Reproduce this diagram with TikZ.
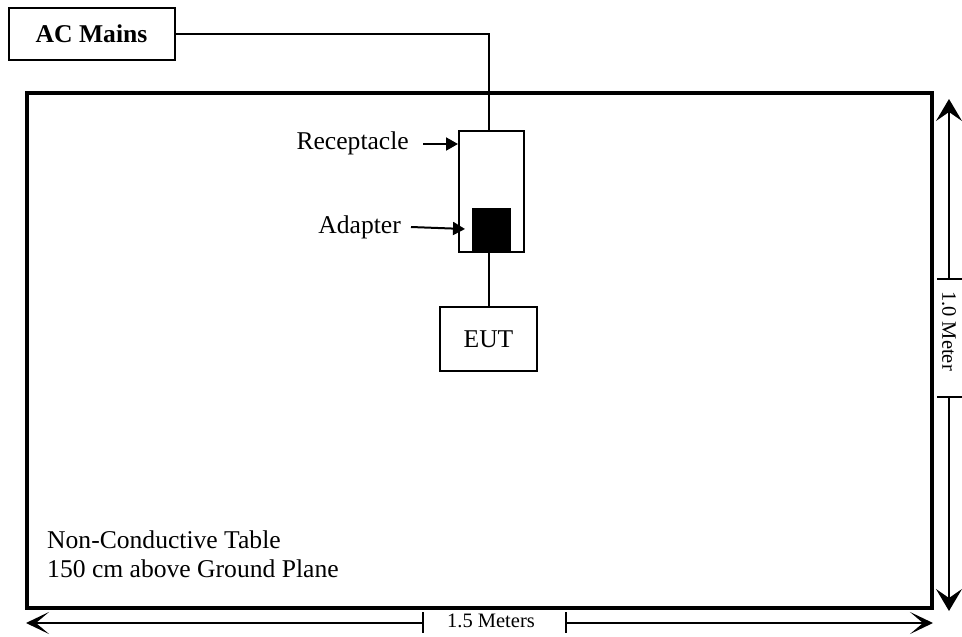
\documentclass[tikz,border=0pt]{standalone}
\usepackage{fontspec}
\setmainfont{Liberation Serif}
\usetikzlibrary{arrows.meta,calc}
\begin{document}
\begin{tikzpicture}[x=1pt,y=-1pt,
  thinline/.style={line width=2pt},
  dimline/.style={line width=1.5pt},
  boxnode/.style={draw,line width=2pt,rectangle,inner sep=0pt},
  lbl/.style={inner sep=0pt,font=\fontsize{25.6}{29}\selectfont},
  dimlbl/.style={inner sep=0pt,font=\fontsize{20.5}{24}\selectfont},
  vtip/.style={-{Stealth[length=22pt,width=26pt,inset=9pt]}},
  htip/.style={-{Stealth[length=23pt,width=22pt,inset=13pt]}},
  ptrtip/.style={-{Triangle[length=12pt,width=13pt]}}
]
\useasboundingbox (0,0) rectangle (962,637);
% table
\node[draw,line width=3.8pt,rectangle,inner sep=0pt,minimum width=905pt,minimum height=515pt] (table) at (479.5,350.5) {};
% AC mains
\node[boxnode,minimum width=166pt,minimum height=52pt,lbl,font=\fontsize{25.6}{29}\selectfont\bfseries] (ac) at (91.5,33.5) {AC Mains};
% receptacle
\node[boxnode,minimum width=65pt,minimum height=121pt] (rec) at (491.5,191.5) {};
\node[fill=black,draw=black,inner sep=0pt,minimum width=38pt,minimum height=44pt,anchor=south] (adp) at (491,252) {};
% EUT
\node[boxnode,minimum width=97pt,minimum height=64pt,lbl] (eut) at (488.5,339) {EUT};
% connections
\coordinate (wtop) at (eut.north |- rec.north);
\coordinate (wbot) at (eut.north |- rec.south);
\draw[thinline] (ac.east) -| (wtop);
\draw[thinline] (wbot) -- (eut.north);
% labels
\node[lbl,anchor=east] (lrec) at (409,143) {Receptacle};
\coordinate (lrecs) at (423,144);
\draw[thinline,ptrtip] (lrecs) -- (rec.west |- lrecs);
\node[lbl,anchor=east] (ladp) at (401,227) {Adapter};
\coordinate (ladps) at (411,227);
\coordinate (ladpe) at (465,229);
\draw[thinline,ptrtip] (ladps) -- (ladpe);
% table text
\node[lbl,anchor=base west,align=left] (tt1) at (47,548) {Non-Conductive Table};
\node[lbl,anchor=base west,align=left] (tt2) at (47,577) {150 cm above Ground Plane};
% vertical dimension
\coordinate (vtop) at (949,99);
\coordinate (vt1) at (949,279);
\coordinate (vt2) at (949,397);
\coordinate (vbot) at (949,611);
\draw[dimline,vtip] (vt1) -- (vtop);
\draw[dimline,vtip] (vt2) -- (vbot);
\draw[dimline] (937,279) -- (962,279);
\draw[dimline] (937,397) -- (962,397);
\node[dimlbl,rotate=-90] (vlbl) at (949,331) {1.0 Meter};
% horizontal dimension
\coordinate (hl) at (26,623);
\coordinate (ht1) at (423,623);
\coordinate (ht2) at (566,623);
\coordinate (hr) at (933,623);
\draw[dimline,htip] (ht1) -- (hl);
\draw[dimline,htip] (ht2) -- (hr);
\draw[dimline] (423,612) -- (423,633);
\draw[dimline] (566,612) -- (566,633);
\node[dimlbl] (hlbl) at (491,621) {1.5 Meters};
\end{tikzpicture}
\end{document}
